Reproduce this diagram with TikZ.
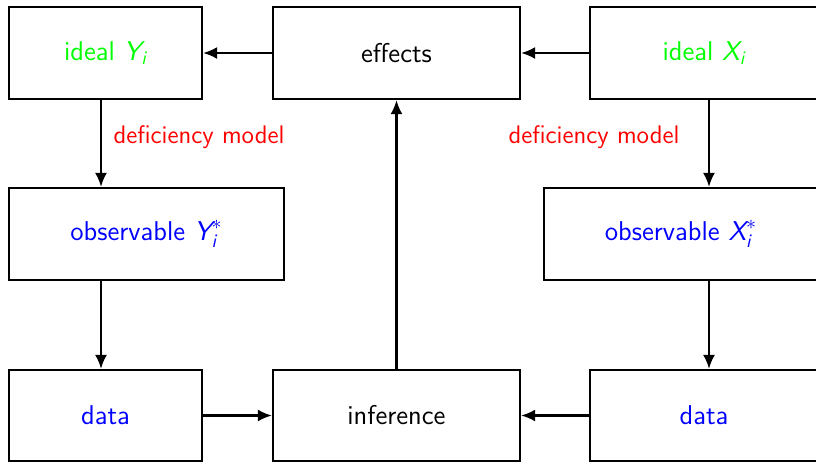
\documentclass[tikz,border=0pt]{standalone}
\usepackage{amsmath}
\usetikzlibrary{arrows.meta}
\begin{document}
\begin{tikzpicture}[x=0.5pt,y=-0.5pt,
  box/.style={draw=black,line width=1.1pt,rectangle,inner sep=0pt,anchor=center,
    font=\sffamily\fontsize{13.6}{16}\selectfont},
  lbl/.style={text=red,font=\sffamily\fontsize{12.7}{15}\selectfont,anchor=center},
  arr/.style={line width=1.1pt,-{Latex[length=7pt,width=6pt]}}]
\useasboundingbox (0,0) rectangle (816,463);
\node[box,minimum width=96.5pt,minimum height=46pt,text=green] (idealY) at (105.5,53) {ideal $\textsl{Y}_{\textsl{i}}$};
\node[box,minimum width=123.5pt,minimum height=46pt] (effects) at (396.5,53) {effects};
\node[box,minimum width=114pt,minimum height=46pt,text=green] (idealX) at (704,53) {ideal $\textsl{X}_{\textsl{i}}$};
\node[box,minimum width=137.5pt,minimum height=46pt,text=blue] (obsY) at (146.5,234) {observable $\textsl{Y}_{\textsl{i}}^{*}$};
\node[box,minimum width=137pt,minimum height=46pt,text=blue] (obsX) at (681,234) {observable $\textsl{X}_{\textsl{i}}^{*}$};
\node[box,minimum width=96.5pt,minimum height=45.5pt,text=blue] (dataY) at (105.5,415.5) {data};
\node[box,minimum width=123.5pt,minimum height=45.5pt] (inf) at (396.5,415.5) {inference};
\node[box,minimum width=114pt,minimum height=45.5pt,text=blue] (dataX) at (704,415.5) {data};
\node[lbl] (defY) at (199,137) {deficiency model};
\node[lbl] (defX) at (594,137) {deficiency model};
\coordinate (lx) at (101,0);
\coordinate (rx) at (709,0);
\draw[arr] (effects) -- (idealY);
\draw[arr] (idealX) -- (effects);
\draw[arr] (idealY.south -| lx) -- (obsY.north -| lx);
\draw[arr] (obsY.south -| lx) -- (dataY.north -| lx);
\draw[arr] (idealX.south -| rx) -- (obsX.north -| rx);
\draw[arr] (obsX.south -| rx) -- (dataX.north -| rx);
\draw[arr] (dataY) -- (inf);
\draw[arr] (dataX) -- (inf);
\draw[arr] (inf) -- (effects);
\end{tikzpicture}
\end{document}
